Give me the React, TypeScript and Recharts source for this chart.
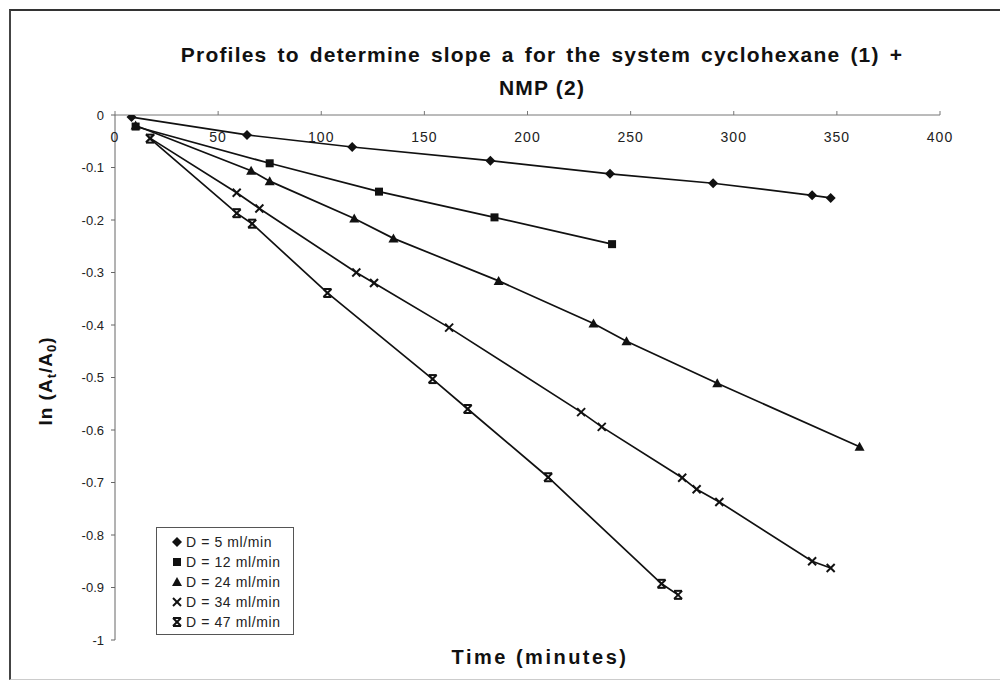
import React from 'react';
import { ScatterChart, Scatter, XAxis, YAxis, Legend, Customized } from 'recharts';

// Axis ticks
const xTicks = [0, 50, 100, 150, 200, 250, 300, 350, 400];
const yTicks = [0, -0.1, -0.2, -0.3, -0.4, -0.5, -0.6, -0.7, -0.8, -0.9, -1];

// Series labels
const seriesNames = ['D = 5 ml/min', 'D = 12 ml/min', 'D = 24 ml/min', 'D = 34 ml/min', 'D = 47 ml/min'];

// D = 5 ml/min
const d5Time = [8, 64, 115, 182, 240, 290, 338, 347];
const d5Ln = [-0.004, -0.038, -0.061, -0.087, -0.112, -0.13, -0.153, -0.158];

// D = 12 ml/min
const d12Time = [10, 75, 128, 184, 241];
const d12Ln = [-0.022, -0.092, -0.146, -0.195, -0.246];

// D = 24 ml/min
const d24Time = [10, 66, 75, 116, 135, 186, 232, 248, 292, 361];
const d24Ln = [-0.02, -0.106, -0.126, -0.197, -0.235, -0.316, -0.397, -0.431, -0.511, -0.632];

// D = 34 ml/min
const d34Time = [17, 59, 70, 117, 125.6, 162, 226, 236, 275, 282, 293, 338, 347];
const d34Ln = [-0.044, -0.148, -0.178, -0.3, -0.32, -0.405, -0.566, -0.594, -0.691, -0.713, -0.737, -0.85, -0.863];

// D = 47 ml/min
const d47Time = [17, 59, 66.5, 103, 154, 171, 210, 265, 273];
const d47Ln = [-0.045, -0.187, -0.207, -0.339, -0.503, -0.56, -0.69, -0.893, -0.914];

const zip = (t: number[], v: number[]) => t.map((time, i) => ({ time, ln: v[i] }));

const FONT = '"Liberation Sans", Arial, sans-serif';
const INK = '#111';

type MarkerProps = { cx?: number; cy?: number };

const Diamond = ({ cx = 0, cy = 0 }: MarkerProps) => (
  <polygon points={`${cx},${cy - 5} ${cx + 5},${cy} ${cx},${cy + 5} ${cx - 5},${cy}`} fill={INK} />
);
const Square = ({ cx = 0, cy = 0 }: MarkerProps) => (
  <rect x={cx - 4} y={cy - 4} width={8} height={8} fill={INK} />
);
const Triangle = ({ cx = 0, cy = 0 }: MarkerProps) => (
  <polygon points={`${cx},${cy - 5} ${cx + 5},${cy + 4} ${cx - 5},${cy + 4}`} fill={INK} />
);
const Cross = ({ cx = 0, cy = 0 }: MarkerProps) => (
  <g stroke={INK} strokeWidth={2}>
    <line x1={cx - 4} y1={cy - 4} x2={cx + 4} y2={cy + 4} />
    <line x1={cx - 4} y1={cy + 4} x2={cx + 4} y2={cy - 4} />
  </g>
);
const Hourglass = ({ cx = 0, cy = 0 }: MarkerProps) => (
  <g stroke={INK} strokeWidth={2}>
    <line x1={cx - 4} y1={cy - 4} x2={cx + 4} y2={cy + 4} />
    <line x1={cx - 4} y1={cy + 4} x2={cx + 4} y2={cy - 4} />
    <line x1={cx - 4} y1={cy - 4} x2={cx + 4} y2={cy - 4} />
    <line x1={cx - 4} y1={cy + 4} x2={cx + 4} y2={cy + 4} />
  </g>
);

const markers = [Diamond, Square, Triangle, Cross, Hourglass];

const XTick = (props: any) => {
  const { x, y, payload } = props;
  return (
    <text x={x} y={y + 33} textAnchor="middle" fontFamily={FONT} fontSize={14} letterSpacing={1} fill="#222">
      {payload.value}
    </text>
  );
};

const LegendBox = () => (
  <div
    style={{
      border: '1px solid #555',
      background: '#fff',
      width: 138,
      height: 108,
      boxSizing: 'border-box',
      paddingTop: 4,
      fontFamily: FONT,
      fontSize: 14,
      letterSpacing: 0.6,
      color: '#222',
      whiteSpace: 'nowrap',
    }}
  >
    {seriesNames.map((name, i) => {
      const M = markers[i];
      return (
        <div key={name} style={{ height: 20, display: 'flex', alignItems: 'center' }}>
          <svg width={29} height={20} style={{ flex: 'none' }}>
            <M cx={20} cy={10} />
          </svg>
          <span>{name}</span>
        </div>
      );
    })}
  </div>
);

const Titles = () => (
  <g fontFamily={FONT} fill="#111" fontWeight="bold">
    <text x={542} y={62} textAnchor="middle" fontSize={21} letterSpacing={1.2} wordSpacing={3}>
      Profiles to determine slope a for the system cyclohexane (1) +
    </text>
    <text x={542} y={95} textAnchor="middle" fontSize={21} letterSpacing={1.2}>
      NMP (2)
    </text>
    <text x={540} y={664} textAnchor="middle" fontSize={20} letterSpacing={2.5}>
      Time (minutes)
    </text>
    <text x={52} y={381} textAnchor="middle" fontSize={19} letterSpacing={1} transform="rotate(-90 52 381)">
      ln (A<tspan dy={4} fontSize={13}>t</tspan>
      <tspan dy={-4}>/A</tspan>
      <tspan dy={4} fontSize={13}>0</tspan>
      <tspan dy={-4}>)</tspan>
    </text>
  </g>
);

export default function App() {
  const series = [
    zip(d5Time, d5Ln),
    zip(d12Time, d12Ln),
    zip(d24Time, d24Ln),
    zip(d34Time, d34Ln),
    zip(d47Time, d47Ln),
  ];
  return (
    <div style={{ position: 'fixed', left: 0, top: 0, width: 1000, height: 681, background: '#fff' }}>
      <div
        style={{
          position: 'absolute',
          left: 9,
          top: 9,
          right: 0,
          bottom: 1,
          borderTop: '2px solid #333',
          borderLeft: '2px solid #444',
          borderBottom: '1px solid #ccc',
        }}
      />
      <ScatterChart width={1000} height={681} margin={{ top: 85, right: 60, bottom: 41, left: 45 }}>
        <XAxis
          type="number"
          dataKey="time"
          orientation="top"
          domain={[0, 400]}
          ticks={xTicks}
          height={30}
          tickSize={4}
          tick={<XTick />}
          stroke="#777"
          allowDataOverflow
        />
        <YAxis
          type="number"
          dataKey="ln"
          domain={[-1, 0]}
          ticks={yTicks}
          width={70}
          tickSize={4}
          tickMargin={7}
          stroke="#666"
          tick={{ fontFamily: FONT, fontSize: 13, fill: '#222' }}
          allowDataOverflow
        />
        {series.map((data, i) => {
          const M = markers[i];
          return (
            <Scatter
              key={seriesNames[i]}
              name={seriesNames[i]}
              data={data}
              line={{ stroke: INK, strokeWidth: 1.7 }}
              lineType="joint"
              shape={(p: any) => <M cx={p.cx} cy={p.cy} />}
              isAnimationActive={false}
            />
          );
        })}
        <Legend
          layout="vertical"
          align="center"
          verticalAlign="middle"
          content={() => <LegendBox />}
          wrapperStyle={{ position: 'absolute', left: 156, top: 527, width: 138, height: 108 }}
        />
        <Customized component={Titles} />
      </ScatterChart>
    </div>
  );
}
